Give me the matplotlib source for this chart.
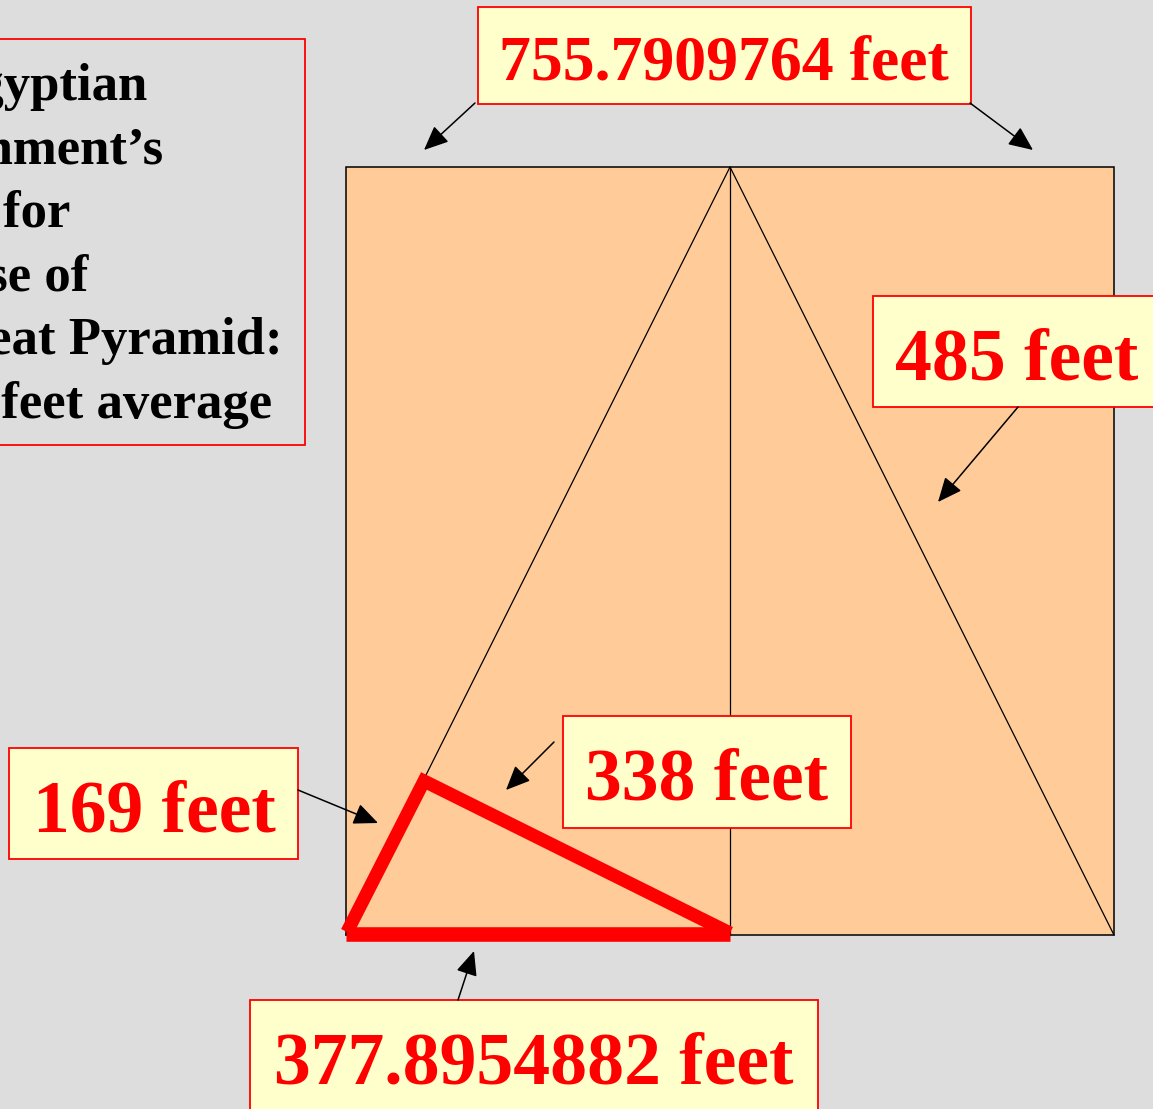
import matplotlib
matplotlib.use("Agg")
import matplotlib.pyplot as plt
from matplotlib.patches import Rectangle, FancyArrowPatch
from matplotlib.lines import Line2D

# Textos del diagrama
note_lines = ["The Egyptian", "Government’s", "figure for", "the base of",
              "the Great Pyramid:", "756 feet average"]
labels = ["755.7909764 feet", "485 feet", "338 feet", "169 feet", "377.8954882 feet"]

BG = "#DDDDDD"
FILL = "#FFCC99"
BOX = "#FFFFCC"
RED = "#FF0000"
FONT = ["Liberation Serif", "DejaVu Serif"]

W, H = 1153, 1109
fig = plt.figure(figsize=(W / 100, H / 100), dpi=100, facecolor=BG)
ax = fig.add_axes([0, 0, 1, 1])
ax.set_xlim(0, W)
ax.set_ylim(H, 0)
ax.set_facecolor(BG)
ax.axis("off")

# Cuadrado de la base y triángulo de la cara
x0, x1, y0, y1 = 346, 1114, 167, 935
xm = (x0 + x1) / 2
ax.add_patch(Rectangle((x0, y0), x1 - x0, y1 - y0, facecolor=FILL,
                       edgecolor="black", lw=1.1, zorder=1))
ax.plot([xm, xm], [y0, y1], color="black", lw=0.9, zorder=2)
ax.plot([x0, xm, x1], [y1, y0, y1], color="black", lw=0.9, zorder=2)

# Triángulo rojo (169 / 338 / 377.9)
px, py = 424, 781
ax.add_line(Line2D([x0 + 1, px, xm], [y1 - 3, py, y1 - 2], color=RED, lw=9.5,
                   solid_joinstyle="miter", solid_capstyle="butt", zorder=3))
ax.add_line(Line2D([x0, xm], [y1 - 1, y1 - 1], color=RED, lw=10.5,
                   solid_capstyle="butt", zorder=3))

# Nota de la izquierda
ax.add_patch(Rectangle((-20, 39), 325, 406, facecolor="none",
                       edgecolor=RED, lw=1.3, zorder=4))
right_edges = [147, 163, 70, 88, 283, 272]
for i, (line, xr) in enumerate(zip(note_lines, right_edges)):
    ax.text(xr, 100 + i * 63.6, line, ha="right", va="baseline", fontsize=38,
            fontweight="bold", family=FONT, color="black", zorder=5)

# Cajas de etiquetas: (x, y, ancho, alto, x_texto, base, ha, tamaño)
boxes = [
    (478, 7, 493, 97, 724, 79, "center", 46),
    (873, 296, 300, 111, 895, 379, "left", 53),
    (563, 716, 288, 112, 707, 799, "center", 53),
    (9, 748, 289, 111, 154, 831, "center", 53),
    (250, 1000, 568, 130, 534, 1083, "center", 53),
]
for lab, (bx, by, bw, bh, tx, tb, ha, fs) in zip(labels, boxes):
    ax.add_patch(Rectangle((bx, by), bw, bh, facecolor=BOX, edgecolor=RED,
                           lw=1.3, zorder=6))
    ax.text(tx, tb, lab, ha=ha, va="baseline", fontsize=fs, fontweight="bold",
            family=FONT, color=RED, zorder=7)

# Flechas
arrows = [((475, 103), (424, 150)), ((970, 103), (1033, 150)),
          ((1018, 407), (938, 502)), ((554, 742), (506, 790)),
          ((298, 790), (378, 823)), ((458, 1000), (474, 951))]
for a, b in arrows:
    ax.add_patch(FancyArrowPatch(a, b, arrowstyle="-|>,head_length=0.5,head_width=0.22",
                                 mutation_scale=30, color="black", lw=1.1,
                                 shrinkA=0, shrinkB=0, zorder=8))

fig.savefig("out.png", dpi=100, facecolor=BG)
